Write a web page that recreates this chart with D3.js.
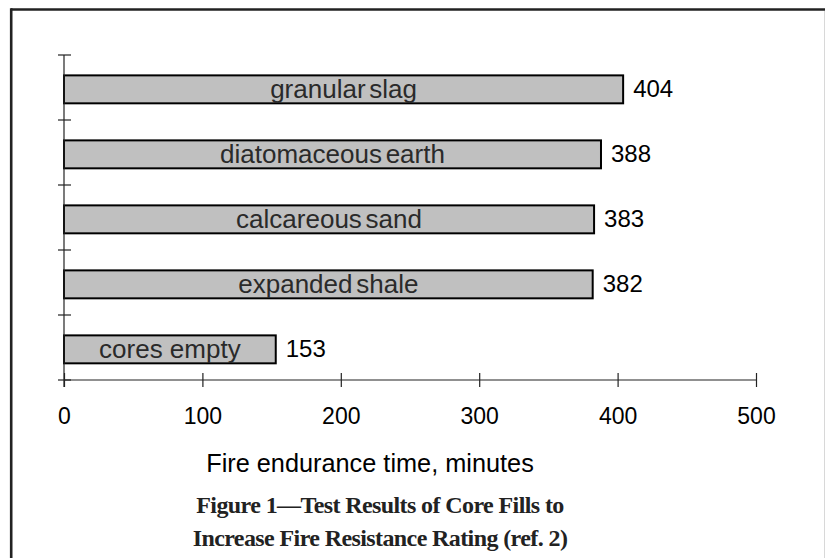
<!DOCTYPE html>
<html>
<head>
<meta charset="utf-8">
<script src="https://cdn.jsdelivr.net/npm/d3@7"></script>
<style>
html,body{margin:0;padding:0;background:#fff;}
svg{display:block;}
</style>
</head>
<body>
<svg id="chart" width="825" height="558"></svg>
<script>
const categories = ["granular slag", "diatomaceous earth", "calcareous sand", "expanded shale", "cores empty"];
const values = [404, 388, 383, 382, 153];
const xTicks = [0, 100, 200, 300, 400, 500];
const axisTitle = "Fire endurance time, minutes";
const captionLines = ["Figure 1\u2014Test Results of Core Fills to", "Increase Fire Resistance Rating (ref. 2)"];

const svg = d3.select("#chart");

// frame
svg.append("line").attr("x1", 11).attr("x2", 825).attr("y1", 9.5).attr("y2", 9.5).attr("stroke", "#222").attr("stroke-width", 2.6);
svg.append("line").attr("x1", 11.2).attr("x2", 11.2).attr("y1", 8.2).attr("y2", 558).attr("stroke", "#222").attr("stroke-width", 2.6);
svg.append("line").attr("x1", 824.5).attr("x2", 824.5).attr("y1", 11).attr("y2", 558).attr("stroke", "#d8d8d8").attr("stroke-width", 1);

const x = d3.scaleLinear().domain([0, 500]).range([64, 756]);
const y = d3.scaleBand().domain(categories).range([55, 380]).paddingInner(0.57).paddingOuter(0.285).align(0.55);

const data = categories.map((c, i) => ({c, v: values[i]}));

// bars
svg.append("g").selectAll("rect").data(data).join("rect")
  .attr("x", x(0))
  .attr("y", d => y(d.c))
  .attr("width", d => x(d.v) - x(0))
  .attr("height", y.bandwidth())
  .attr("fill", "#c0c0c0")
  .attr("stroke", "#000")
  .attr("stroke-width", 2);

// labels inside bars
svg.append("g").selectAll("text").data(data).join("text")
  .attr("x", d => (x(0) + x(d.v)) / 2)
  .attr("y", d => y(d.c) + y.bandwidth() / 2 + 9)
  .attr("text-anchor", "middle")
  .attr("font-family", "Liberation Sans, Arial, sans-serif")
  .attr("font-size", 26)
  .attr("word-spacing", (d, i) => i === categories.length - 1 ? 0 : -3.5)
  .attr("fill", "#2a2a2a")
  .text(d => d.c);

// value labels
svg.append("g").selectAll("text").data(data).join("text")
  .attr("x", d => x(d.v) + 10)
  .attr("y", d => y(d.c) + y.bandwidth() / 2 + 8)
  .attr("font-family", "Liberation Sans, Arial, sans-serif")
  .attr("font-size", 24)
  .attr("fill", "#000")
  .text(d => d.v);

// y axis
const step = y.step();
const gap = step - y.bandwidth();
const bounds = categories.map(c => y(c) - gap * 0.55);
bounds.push(y(categories[categories.length - 1]) + y.bandwidth() + gap * 0.45);
svg.append("line").attr("x1", x(0)).attr("x2", x(0)).attr("y1", bounds[0]).attr("y2", bounds[bounds.length - 1] + 7).attr("stroke", "#222").attr("stroke-width", 1.2);
svg.append("g").selectAll("line").data(bounds).join("line")
  .attr("x1", x(0) - 6).attr("x2", x(0) + 7)
  .attr("y1", d => d).attr("y2", d => d)
  .attr("stroke", "#222").attr("stroke-width", 1.2);

// x axis
const axisY = bounds[bounds.length - 1];
const gx = svg.append("g").attr("transform", `translate(0,${axisY})`)
  .call(d3.axisBottom(x).tickValues(xTicks).tickSize(7).tickPadding(0));
gx.select(".domain").remove();
gx.append("line").attr("x1", x(0)).attr("x2", x(500)).attr("y1", 0).attr("y2", 0).attr("stroke", "#222").attr("stroke-width", 1.2);
gx.selectAll(".tick line").attr("y1", -7).attr("y2", 7).attr("stroke", "#222").attr("stroke-width", 1.2);
gx.selectAll(".tick text")
  .attr("y", 44).attr("dy", 0)
  .attr("font-family", "Liberation Sans, Arial, sans-serif")
  .attr("font-size", 23)
  .attr("fill", "#000");

// axis title
svg.append("text")
  .attr("x", 370).attr("y", 472)
  .attr("text-anchor", "middle")
  .attr("font-family", "Liberation Sans, Arial, sans-serif")
  .attr("font-size", 25.3)
  .attr("fill", "#000")
  .text(axisTitle);

// caption
svg.append("g").selectAll("text").data(captionLines).join("text")
  .attr("x", 380)
  .attr("y", (d, i) => 513 + i * 33)
  .attr("text-anchor", "middle")
  .attr("font-family", "Liberation Serif, Times New Roman, serif")
  .attr("font-weight", "bold")
  .attr("font-size", 24)
  .attr("letter-spacing", -0.6)
  .attr("fill", "#222")
  .text(d => d);
</script>
</body>
</html>
